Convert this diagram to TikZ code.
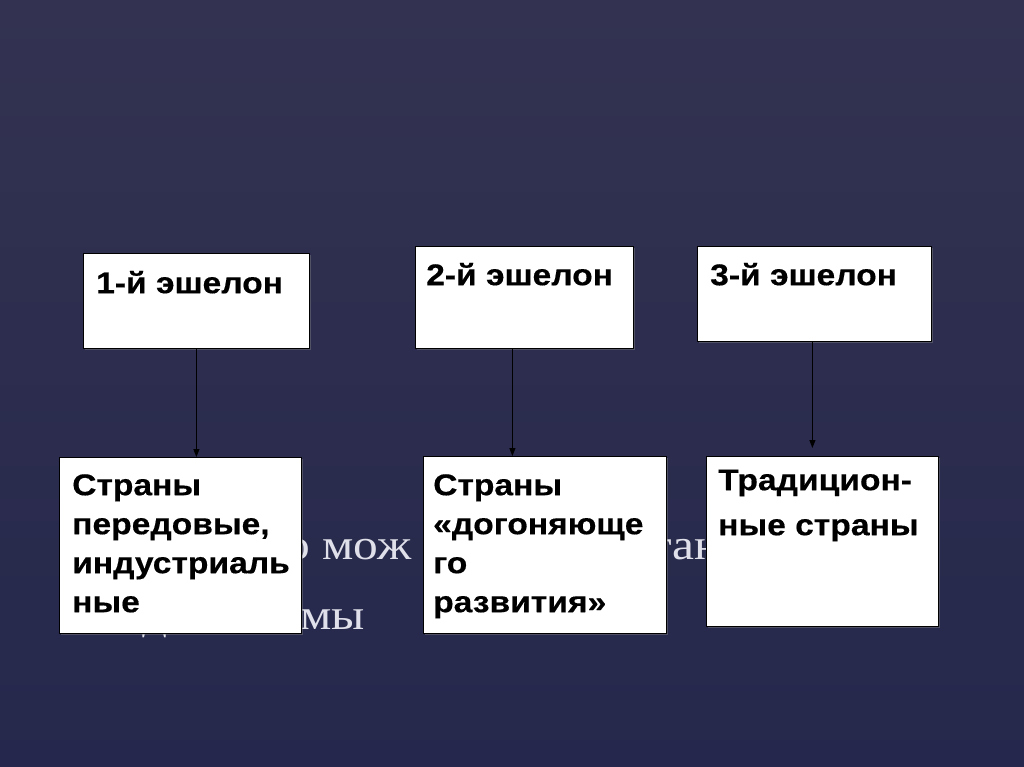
\documentclass[tikz,border=0pt]{standalone}
\usepackage{fontspec}
\setmainfont{Liberation Serif}
\newfontfamily\boxfont[FakeStretch=1.12, BoldFeatures={FakeBold=0.4}]{Liberation Sans}
\newfontfamily\ghostfont[FakeStretch=1.15]{Liberation Serif}
\usetikzlibrary{arrows.meta,shadows}
\definecolor{bgtop}{RGB}{51,50,81}
\definecolor{bgbot}{RGB}{37,40,76}
\definecolor{ghost}{RGB}{224,224,234}
\newcommand\lnstrut{\rule{0pt}{30pt}}
\begin{document}
\begin{tikzpicture}[x=1pt, y=-1pt, line join=round, >={Triangle[length=8pt,width=6pt]},
	box/.style={draw=black, line width=0.8pt, fill=white, inner sep=0pt, anchor=north west, drop shadow={shadow xshift=1.5pt, shadow yshift=-1.5pt, opacity=0.45}},
	lbl/.style={font=\boxfont\bfseries\fontsize{30}{39}\selectfont, align=left, inner sep=0pt, anchor=north west},
	bgtext/.style={font=\ghostfont\fontsize{43}{48}\selectfont, text=ghost, inner sep=0pt, anchor=base west}]
	\shade[top color=bgtop, bottom color=bgbot] (0,0) rectangle (1024,767);
	\useasboundingbox (0,0) rectangle (1024,767);
	\foreach \n/\x/\y/\t in {g1/285/559/{о мож}, g2/650/559/{тан}, g3/142/629/{д}, g4/300/629/{мы}}{\node[bgtext] (\n) at (\x,\y) {\t};}
	\foreach \n/\x/\y/\w/\h in {a1/83/253/226pt/95pt, a2/415/246/218pt/102pt, a3/697/246/234pt/95pt, b1/59/457/242pt/176pt, b2/423/456/243pt/177pt, b3/706/456/232pt/170pt}{\node[box, minimum width=\w, minimum height=\h] (\n) at (\x,\y) {};}
	\foreach \n/\dx/\dy/\t in {a1/13pt/10pt/{1-й эшелон}, a2/11pt/9pt/{2-й эшелон}, a3/13pt/9pt/{3-й эшелон}, b1/13pt/8pt/{Страны\\передовые,\\индустриаль\\ные}, b2/10pt/9pt/{Страны\\«догоняюще\\го\\развития»}, b3/12pt/4pt/{Традицион-\\[6pt]ные страны}}{\node[lbl] (t\n) at ([xshift=\dx, yshift=-\dy]\n.north west) {\lnstrut\t};}
	\coordinate (s1) at (a1.south);
	\coordinate (s2) at ([xshift=-12pt]a2.south);
	\coordinate (s3) at ([xshift=-2pt]a3.south);
	\foreach \i in {1,2}{\draw[->, line width=1pt] (s\i) -- (s\i |- b\i.north);}
	\draw[->, line width=1pt, shorten >=8pt] (s3) -- (s3 |- b3.north);
\end{tikzpicture}
\end{document}
